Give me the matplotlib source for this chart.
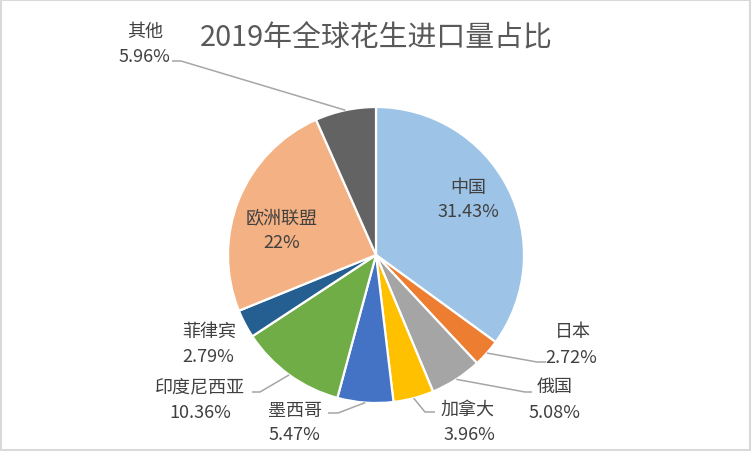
import numpy as np
import matplotlib
matplotlib.use('Agg')
import matplotlib.pyplot as plt
from matplotlib.patches import Rectangle

plt.rcParams['font.family'] = ['Noto Sans CJK SC', 'DejaVu Sans']

# 数据
countries = ['中国', '日本', '俄国', '加拿大', '墨西哥', '印度尼西亚', '菲律宾', '欧洲联盟', '其他']
shares = [31.43, 2.72, 5.08, 3.96, 5.47, 10.36, 2.79, 22, 5.96]
pct_labels = ['31.43%', '2.72%', '5.08%', '3.96%', '5.47%', '10.36%', '2.79%', '22%', '5.96%']
colors = ['#9DC3E6', '#ED7D31', '#A5A5A5', '#FFC000', '#4472C4',
          '#70AD47', '#255E91', '#F4B183', '#636363']

W, H = 752, 452
# 标签位置（图像像素坐标，名称中心 / 百分比中心）
name_pos = [(468, 188), (573, 332), (555, 387), (468, 410), (295, 411),
            (200, 387), (209, 332), (282, 219), (145, 32)]
pct_pos = [(468, 212), (571, 358), (555, 413), (469, 435), (294, 435),
           (200, 413), (208, 357), (282, 243), (144, 57)]
# 引导线折点与末端，None 表示无引导线
elbows = [None, ((537, 363), (546, 363)), ((525, 393), (532, 393)),
          ((425, 413), (435, 413)), ((338, 414), (328, 414)),
          ((260, 393), (252, 393)), None, None, ((181, 62), (172, 62))]


def fy(y):
    return H - y


fig = plt.figure(figsize=(W / 100, H / 100), dpi=100)
ax = fig.add_axes([0, 0, 1, 1])

cx, cy, r = 376, fy(256), 148
wedges, _ = ax.pie(shares, colors=colors, startangle=90, counterclock=False,
                   center=(cx, cy), radius=r,
                   wedgeprops=dict(edgecolor='white', linewidth=1.6))

ax.set_xlim(0, W)
ax.set_ylim(0, H)
ax.set_aspect('equal', adjustable='box')
ax.axis('off')

for i, w in enumerate(wedges):
    nx, ny = name_pos[i]
    px, py = pct_pos[i]
    ax.text(nx, fy(ny), countries[i], ha='center', va='center', fontsize=13, color='#404040')
    ax.text(px, fy(py), pct_labels[i], ha='center', va='center', fontsize=13, color='#404040')
    if elbows[i] is not None:
        mid = np.deg2rad((w.theta1 + w.theta2) / 2)
        sx, sy = cx + r * np.cos(mid), cy + r * np.sin(mid)
        (ex, ey), (tx, ty) = elbows[i]
        ax.plot([sx, ex, tx], [sy, fy(ey), fy(ty)], color='#A6A6A6', lw=1.1,
                solid_capstyle='butt')

ax.text(376, fy(38), '2019年全球花生进口量占比', ha='center', va='center',
        fontsize=20.8, color='#595959')

fig.patches.append(Rectangle((0.001, 0.002), 0.997, 0.996, transform=fig.transFigure,
                             fill=False, edgecolor='#D9D9D9', linewidth=1.5))

fig.savefig('out.png', dpi=100, facecolor='white')
